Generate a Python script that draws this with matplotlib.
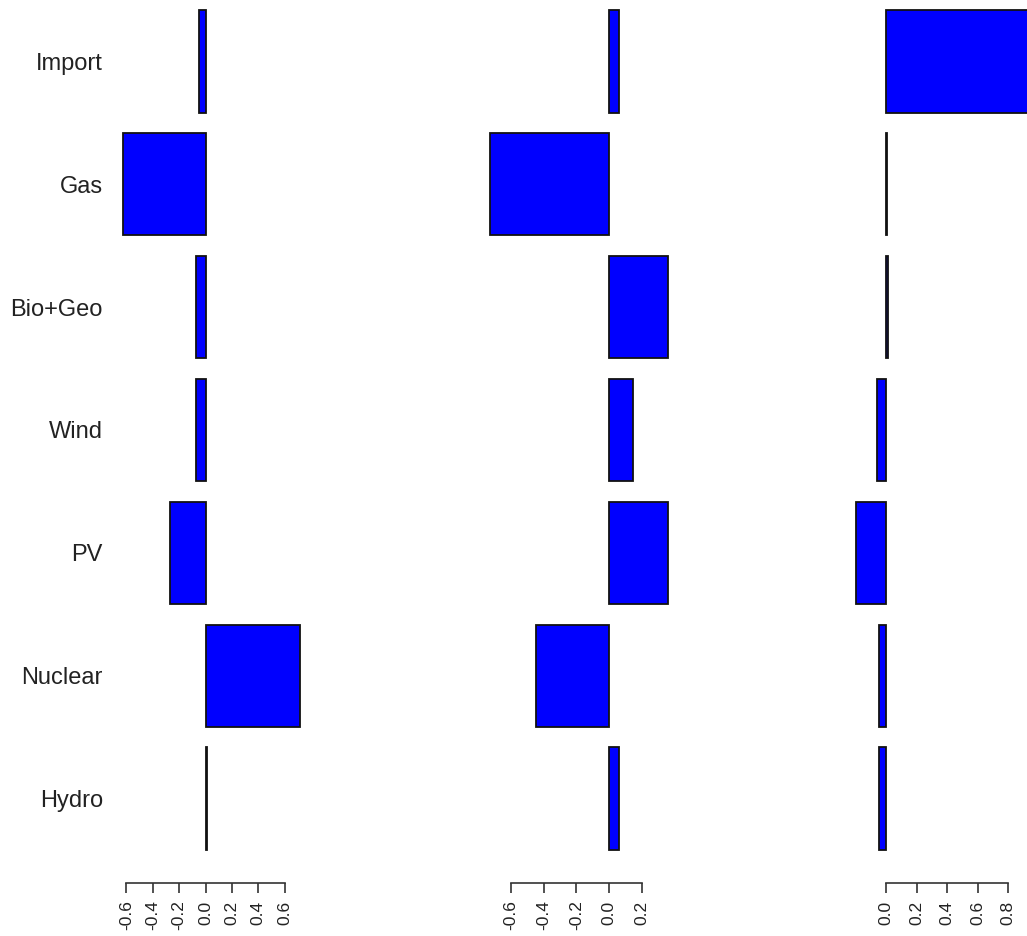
import matplotlib.pyplot as plt
import numpy as np

plt.rcParams['font.family'] = ['Liberation Sans', 'DejaVu Sans']

# categories from bottom to top
sources = ['Hydro', 'Nuclear', 'PV', 'Wind', 'Bio+Geo', 'Gas', 'Import']

# one loading vector per panel, same order as sources
comp1 = [0.008, 0.72, -0.27, -0.07, -0.07, -0.63, -0.05]
comp2 = [0.06, -0.446, 0.356, 0.144, 0.356, -0.725, 0.06]
comp3 = [-0.045, -0.045, -0.195, -0.06, 0.01, 0.003, 0.97]

ticks1 = [-0.6, -0.4, -0.2, 0.0, 0.2, 0.4, 0.6]
ticks2 = [-0.6, -0.4, -0.2, 0.0, 0.2]
ticks3 = [0.0, 0.2, 0.4, 0.6, 0.8]

panels = [(comp1, ticks1), (comp2, ticks2), (comp3, ticks3)]
lefts = [0.1124, 0.4703, 0.827]


def padded(lo, hi, frac=0.04):
    d = (hi - lo) * frac
    return lo - d, hi + d


fig = plt.figure(figsize=(10.27, 9.36), dpi=100)

# bar layout like barplot(): width 1, space 0.2
pos = 0.7 + 1.2 * np.arange(len(sources))
ylim = padded(pos[0] - 0.5, pos[-1] + 0.5)

for i, ((vals, ticks), left) in enumerate(zip(panels, lefts)):
    ax = fig.add_axes([left, 0.0561, 0.187, 0.969])
    ax.barh(pos, vals, height=1.0, color='#0000ff', edgecolor='#111111',
            linewidth=1.3)
    lo = min(0, min(vals))
    hi = max(0, max(vals))
    ax.set_xlim(*padded(lo, hi))
    ax.set_ylim(*ylim)

    for side in ['top', 'right', 'left']:
        ax.spines[side].set_visible(False)
    ax.spines['bottom'].set_bounds(ticks[0], ticks[-1])
    ax.spines['bottom'].set_color('#333333')
    ax.spines['bottom'].set_linewidth(1.2)
    ax.set_xticks(ticks)
    ax.set_xticklabels([f'{t:.1f}' for t in ticks], rotation=90,
                       fontsize=12.5, color='#222222')
    ax.tick_params(axis='x', length=7.2, width=1.2, color='#333333', pad=5)

    if i == 0:
        ax.set_yticks(pos)
        ax.set_yticklabels(sources, fontsize=17, color='#222222')
        ax.tick_params(axis='y', length=0, pad=9)
    else:
        ax.set_yticks([])

fig.savefig('out.png', dpi=100)
